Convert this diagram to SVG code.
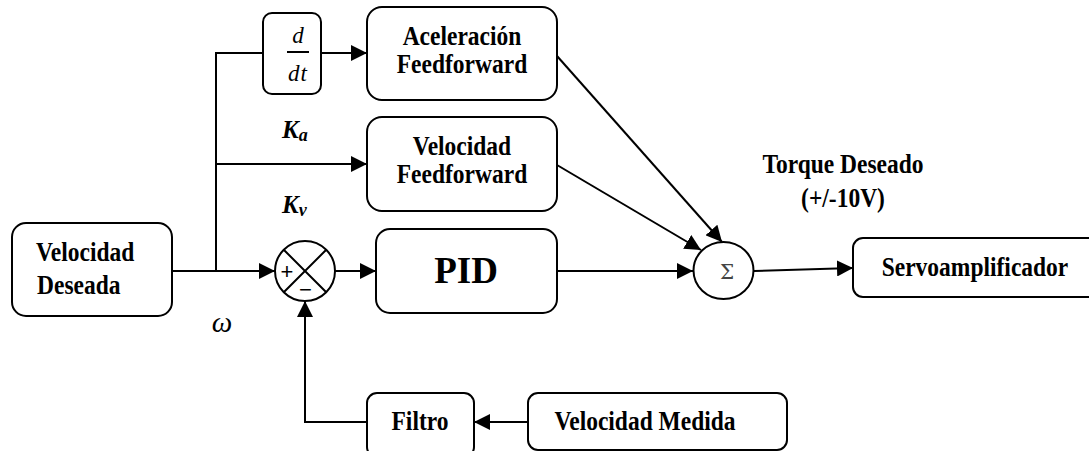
<svg xmlns="http://www.w3.org/2000/svg" width="1089" height="451" viewBox="0 0 1089 451">
  <defs>
    <marker id="arrow" markerUnits="userSpaceOnUse" markerWidth="17" markerHeight="16" refX="16" refY="8" orient="auto">
      <path d="M0,0 L16,8 L0,16 z" fill="#000"/>
    </marker>
    <style>
      .box { fill: #fff; stroke: #000; stroke-width: 2; }
      .wire { fill: none; stroke: #000; stroke-width: 2; }
      .arr { fill: none; stroke: #000; stroke-width: 2; marker-end: url(#arrow); }
      .lbl { font-family: "Liberation Serif", "Times New Roman", serif; font-weight: bold; font-size: 23.5px; text-anchor: middle; fill: #000; }
      .left { text-anchor: start; }
      .math { font-family: "Liberation Serif", "Times New Roman", serif; font-style: italic; fill: #000; }
      .sign { font-family: "Liberation Sans", Arial, sans-serif; font-size: 22px; text-anchor: middle; fill: #000; }
    </style>
  </defs>

  <rect width="1089" height="451" fill="#fff"/>

  <!-- connectors -->
  <g id="connectors">
    <path class="wire" d="M172,271 H216 M216,271 V53 H263"/>
    <path class="arr" d="M216,271 H275"/>
    <path class="arr" d="M321,53 H367"/>
    <path class="arr" d="M216,164 H367"/>
    <path class="arr" d="M335,271 H376"/>
    <path class="arr" d="M557,271 H693"/>
    <path class="arr" d="M557,56 L722,242"/>
    <path class="arr" d="M557,165 L701,250"/>
    <path class="arr" d="M754,271 L853,268"/>
    <path class="arr" d="M528,422 H474"/>
    <path class="arr" d="M367,422 H305 V301"/>
  </g>

  <!-- desired velocity source -->
  <g id="velocidad-deseada">
    <rect class="box" x="12" y="223" width="160" height="93" rx="14"/>
    <text class="lbl left" transform="translate(36,261) scale(1,1.15)">Velocidad</text>
    <text class="lbl left" transform="translate(37,294) scale(1,1.15)">Deseada</text>
  </g>

  <!-- derivative block -->
  <g id="derivada">
    <rect class="box" x="263" y="13" width="58" height="81" rx="9"/>
    <text class="math" x="298" y="43" font-size="23" text-anchor="middle">d</text>
    <line x1="287" y1="52" x2="309" y2="52" stroke="#000" stroke-width="2"/>
    <text class="math" x="298" y="81" font-size="23" text-anchor="middle" letter-spacing="1">dt</text>
  </g>

  <!-- gains -->
  <g id="ganancia-ka">
    <text class="math" x="282" y="138" font-size="25" font-weight="bold">K<tspan font-size="18" dy="3">a</tspan></text>
  </g>
  <g id="ganancia-kv">
    <text class="math" x="282" y="213" font-size="25" font-weight="bold">K<tspan font-size="18" dy="3">v</tspan></text>
  </g>
  <g id="omega">
    <text class="math" x="222" y="332" font-size="29" text-anchor="middle">ω</text>
  </g>

  <!-- acceleration feedforward -->
  <g id="aceleracion-ff">
    <rect class="box" x="367" y="7" width="190" height="93" rx="15"/>
    <text class="lbl" transform="translate(462,45) scale(1,1.15)">Aceleración</text>
    <text class="lbl" transform="translate(462,73) scale(1,1.15)">Feedforward</text>
  </g>

  <!-- velocity feedforward -->
  <g id="velocidad-ff">
    <rect class="box" x="367" y="117" width="190" height="94" rx="15"/>
    <text class="lbl" transform="translate(462,155) scale(1,1.15)">Velocidad</text>
    <text class="lbl" transform="translate(462,183) scale(1,1.15)">Feedforward</text>
  </g>

  <!-- error summing junction -->
  <g id="comparador">
    <circle class="box" cx="305" cy="271" r="30"/>
    <path class="wire" d="M284,250 L326,292 M326,250 L284,292"/>
    <text class="sign" x="287" y="279">+</text>
    <text class="sign" x="305.5" y="297">−</text>
  </g>

  <!-- PID controller -->
  <g id="pid">
    <rect class="box" x="376" y="229" width="181" height="84" rx="14"/>
    <text class="lbl" transform="translate(466,283) scale(1,1.05)" style="font-size:37px">PID</text>
  </g>

  <!-- torque summing junction -->
  <g id="sumador">
    <ellipse class="box" cx="723.5" cy="270.5" rx="30" ry="28.5"/>
    <text x="727" y="279" font-family="'DejaVu Serif', 'Liberation Serif', serif" font-size="20" fill="#444" text-anchor="middle">Σ</text>
  </g>

  <g id="torque-label">
    <text class="lbl" transform="translate(843,173) scale(1,1.15)">Torque Deseado</text>
    <text class="lbl" transform="translate(843,207) scale(1,1.15)">(+/-10V)</text>
  </g>

  <!-- servo amplifier -->
  <g id="servoamplificador">
    <rect class="box" x="853" y="238" width="250" height="59" rx="10"/>
    <text class="lbl" transform="translate(975,276) scale(1,1.15)">Servoamplificador</text>
  </g>

  <!-- feedback path -->
  <g id="filtro">
    <rect class="box" x="367" y="393" width="107" height="64" rx="10"/>
    <text class="lbl" transform="translate(420,430) scale(1,1.15)">Filtro</text>
  </g>
  <g id="velocidad-medida">
    <rect class="box" x="528" y="393" width="259" height="57" rx="10"/>
    <text class="lbl" transform="translate(645,430) scale(1,1.15)">Velocidad Medida</text>
  </g>
</svg>
